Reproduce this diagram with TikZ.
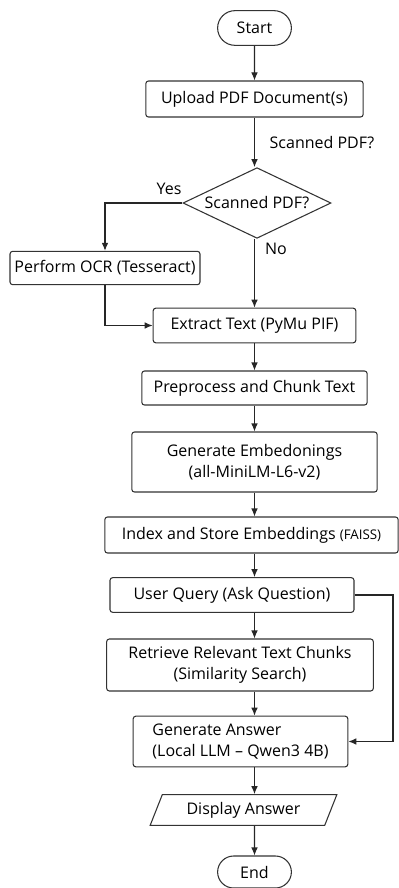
\documentclass[tikz,border=0pt]{standalone}
\usepackage{fontspec}
\setmainfont{Open Sans}
\usetikzlibrary{shapes.geometric}
\usetikzlibrary{shapes.misc}
\usetikzlibrary{arrows.meta}

\begin{document}
\begin{tikzpicture}[x=0.75pt,y=-0.75pt,
	box/.style={draw=black!80,line width=0.8pt,rounded corners=2pt,inner sep=2pt,font=\fontsize{12}{16}\selectfont},
	term/.style={draw=black!80,line width=0.8pt,rounded rectangle,minimum width=62pt,minimum height=26pt,font=\fontsize{12}{14}\selectfont},
	decide/.style={draw=black!80,line width=0.8pt,diamond,aspect=2.1,inner sep=0pt,minimum width=111pt,minimum height=53pt,font=\fontsize{12}{14}\selectfont},
	inout/.style={draw=black!80,line width=0.8pt,trapezium,trapezium left angle=57,trapezium right angle=123,trapezium stretches body,minimum width=140pt,minimum height=23pt,inner sep=1pt,font=\fontsize{12}{14}\selectfont},
	arr/.style={-{Latex[length=6pt,width=5pt]},draw=black!85,line width=0.8pt},
	lbl/.style={font=\fontsize{12}{14}\selectfont}]
	\useasboundingbox (0,0) rectangle (399,888);
	% main column
	\node[term] (start) at (254.5,28) {Start};
	\node[box,minimum width=163pt,minimum height=27pt] (upload) at (254.5,99) {Upload PDF Document(s)};
	\node[decide] (scan) at (257,203) {Scanned PDF?};
	\node[box,minimum width=142.5pt,minimum height=25pt] (ocr) at (105,268) {Perform OCR (Tesseract)};
	\node[box,minimum width=152pt,minimum height=26pt] (extract) at (254.5,325.5) {Extract Text (PyMu PIF)};
	\node[box,minimum width=169pt,minimum height=25.5pt] (prep) at (254.5,388) {Preprocess and Chunk Text};
	\node[box,minimum width=184pt,minimum height=45pt,align=center] (embed) at (254.5,462) {Generate Embedonings\\(all-MiniLM-L6-v2)};
	\node[box,minimum width=220pt,minimum height=27pt] (index) at (251.5,535) {Index and Store Embeddings {\fontsize{10}{12}\selectfont(FAISS)}};
	\node[box,minimum width=183pt,minimum height=26pt] (query) at (232,595) {User Query (Ask Question)};
	\node[box,minimum width=200pt,minimum height=39pt,align=center] (retr) at (240,665) {Retrieve Relevant Text Chunks\\(Similarity Search)};
	\node[box,minimum width=161pt,minimum height=38pt,align=left] (answer) at (240.5,741.5) {Generate Answer\\(Local LLM -- Qwen3 4B)};
	\node[inout] (disp) at (243.5,810) {Display Answer};
	\node[term,minimum height=24pt] (stop) at (254.5,872) {End};

	\node[lbl,anchor=west] (scanlbl) at (265,143) {Scanned PDF?};
	\node[lbl] (yes) at (169,189) {Yes};
	\node[lbl] (no) at (276,249) {No};
	\coordinate (qturn) at (393,595);

	\draw[arr] (start) -- (upload);
	\draw[arr] (upload.south) -- (upload.south |- scan.north);
	\draw[arr] (scan.west) -| (ocr.north);
	\draw[arr] (upload.south |- scan.south) -- (extract.north -| upload.south);
	\draw[arr] (ocr.south) |- (extract.west);
	\draw[arr] (extract) -- (prep);
	\draw[arr] (prep) -- (embed);
	\draw[arr] (embed.south) -- (index.north -| embed.south);
	\draw[arr] (index.south -| start) -- (query.north -| start);
	\draw[arr] (query.south -| start) -- (retr.north -| start);
	\draw[arr] (retr.south -| start) -- (answer.north -| start);
	\draw[arr] (answer.south -| start) -- (disp.north -| start);
	\draw[arr] (disp.south -| start) -- (stop);
	\draw[arr] (query.east) -- (qturn) |- (answer.east);
\end{tikzpicture}
\end{document}
